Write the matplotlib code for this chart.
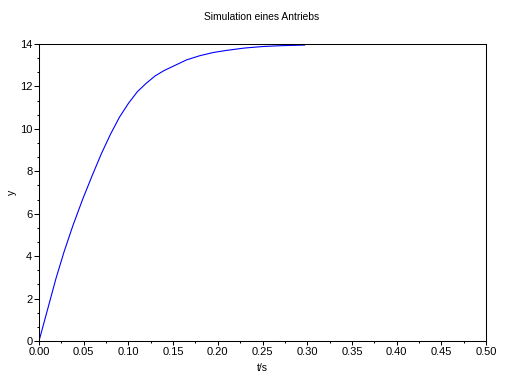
import matplotlib
matplotlib.use("Agg")
import matplotlib.pyplot as plt
from matplotlib.ticker import MultipleLocator, AutoMinorLocator

plt.rcParams["font.family"] = ["Liberation Sans", "DejaVu Sans"]
plt.rcParams["font.size"] = 8

# step response
t = [0.0, 0.010, 0.019, 0.028, 0.038, 0.049, 0.060, 0.070, 0.080,
     0.090, 0.100, 0.110, 0.120, 0.130, 0.140, 0.150, 0.165, 0.180,
     0.195, 0.210, 0.230, 0.250, 0.270, 0.297]
y = [0.0, 1.55, 2.95, 4.20, 5.45, 6.70, 7.85, 8.85, 9.75,
     10.55, 11.20, 11.75, 12.15, 12.50, 12.75, 12.95, 13.25, 13.45,
     13.60, 13.70, 13.81, 13.88, 13.92, 13.95]

title = "Simulation eines Antriebs"
xlabel = "t/s"
ylabel = "y"

fig = plt.figure(figsize=(5.32, 3.81), dpi=100)
ax = fig.add_axes([39 / 532, 40 / 381, 447 / 532, 297 / 381])

ax.plot(t, y, color="#0000ff", linewidth=0.8)

ax.set_xlim(0, 0.5)
ax.set_ylim(0, 14)
ax.xaxis.set_major_locator(MultipleLocator(0.05))
ax.xaxis.set_minor_locator(AutoMinorLocator(2))
ax.yaxis.set_major_locator(MultipleLocator(2))
ax.yaxis.set_minor_locator(AutoMinorLocator(3))
ax.xaxis.set_major_formatter(plt.FormatStrFormatter("%.2f"))

ax.tick_params(axis="x", which="major", direction="out", length=2.6, width=0.75, pad=2)
ax.tick_params(axis="x", which="minor", direction="out", length=1.5, width=0.75)
ax.tick_params(axis="y", which="major", direction="out", length=3.6, width=0.75, pad=1.2)
ax.tick_params(axis="y", which="minor", direction="out", length=1.8, width=0.75)

for s in ax.spines.values():
    s.set_linewidth(0.75)

fig.text(262 / 532, 1 - 17 / 381, title, ha="center", va="center", fontsize=7.4)
fig.text(262 / 532, 1 - 368 / 381, xlabel, ha="center", va="center", fontsize=7.6)
fig.text(12 / 532, 1 - 192 / 381, ylabel, ha="center", va="center", fontsize=7.6, rotation=90)

fig.savefig("out.png", dpi=100)
